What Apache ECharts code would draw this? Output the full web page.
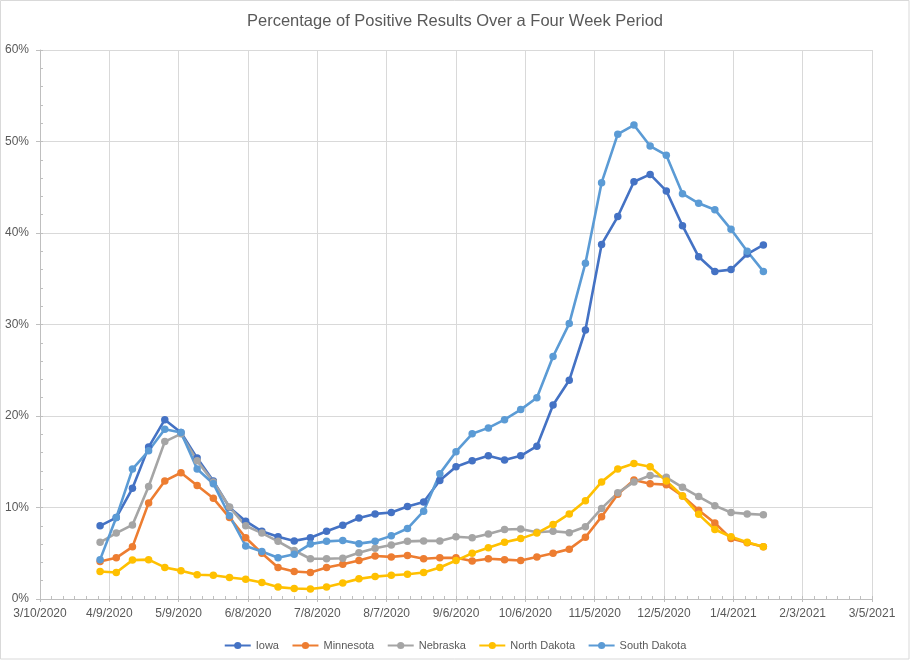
<!DOCTYPE html>
<html>
<head>
<meta charset="utf-8">
<script src="https://cdn.jsdelivr.net/npm/echarts@6/dist/echarts.min.js"></script>
<style>
html,body{margin:0;padding:0;background:#fff;}
#chart{width:910px;height:661px;}
</style>
</head>
<body>
<div id="chart"></div>
<script>
const chartTitle = 'Percentage of Positive Results Over a Four Week Period';
const axisStart = '2020-03-10';
const axisDays = 360;
const weeks = ['2020-04-05','2020-04-12','2020-04-19','2020-04-26','2020-05-03','2020-05-10','2020-05-17','2020-05-24','2020-05-31','2020-06-07','2020-06-14','2020-06-21','2020-06-28','2020-07-05','2020-07-12','2020-07-19','2020-07-26','2020-08-02','2020-08-09','2020-08-16','2020-08-23','2020-08-30','2020-09-06','2020-09-13','2020-09-20','2020-09-27','2020-10-04','2020-10-11','2020-10-18','2020-10-25','2020-11-01','2020-11-08','2020-11-15','2020-11-22','2020-11-29','2020-12-06','2020-12-13','2020-12-20','2020-12-27','2021-01-03','2021-01-10','2021-01-17'];
const iowa = [8.0,8.9,12.1,16.6,19.6,18.2,15.4,12.9,10.0,8.5,7.4,6.8,6.35,6.7,7.4,8.05,8.85,9.3,9.45,10.1,10.6,12.95,14.45,15.1,15.65,15.2,15.65,16.7,21.2,23.9,29.4,38.75,41.8,45.6,46.4,44.6,40.8,37.4,35.8,36.0,37.7,38.7];
const minnesota = [4.1,4.5,5.7,10.5,12.9,13.8,12.4,11.0,8.9,6.7,5.0,3.45,3.0,2.9,3.45,3.8,4.2,4.7,4.6,4.75,4.4,4.5,4.5,4.15,4.4,4.3,4.2,4.6,5.0,5.45,6.75,9.0,11.45,13.0,12.6,12.5,11.25,9.7,8.3,6.6,6.15,5.7];
const nebraska = [6.2,7.2,8.1,12.3,17.2,18.05,15.1,12.8,10.05,8.0,7.2,6.3,5.3,4.4,4.4,4.45,5.05,5.55,5.9,6.3,6.35,6.35,6.8,6.7,7.1,7.6,7.65,7.3,7.4,7.25,7.9,9.9,11.6,12.8,13.5,13.3,12.2,11.2,10.2,9.45,9.3,9.2];
const northDakota = [3.0,2.9,4.25,4.3,3.45,3.1,2.65,2.6,2.35,2.15,1.8,1.3,1.15,1.1,1.3,1.75,2.2,2.45,2.6,2.7,2.9,3.45,4.2,5.0,5.6,6.2,6.6,7.2,8.15,9.3,10.75,12.8,14.2,14.8,14.45,12.9,11.25,9.25,7.6,6.8,6.2,5.7];
const southDakota = [4.3,8.9,14.2,16.2,18.55,18.2,14.2,12.6,9.1,5.8,5.2,4.5,4.9,6.0,6.3,6.4,6.05,6.3,6.9,7.7,9.6,13.7,16.1,18.05,18.7,19.6,20.7,22.0,26.5,30.1,36.7,45.5,50.8,51.8,49.5,48.5,44.3,43.25,42.55,40.4,38.0,35.8];
const seriesNames = ['Iowa','Minnesota','Nebraska','North Dakota','South Dakota'];
const seriesValues = [iowa, minnesota, nebraska, northDakota, southDakota];
const seriesColors = ['#4472C4','#ED7D31','#A5A5A5','#FFC000','#5B9BD5'];

const DAY = 86400000;
const base = Date.parse(axisStart);
const dayOf = d => Math.round((Date.parse(d) - base) / DAY);
const fmtDate = v => {
  const d = new Date(base + v * DAY);
  return (d.getUTCMonth() + 1) + '/' + d.getUTCDate() + '/' + d.getUTCFullYear();
};

const textColor = '#595959';
const font = '"Liberation Sans", Arial, sans-serif';
const chart = echarts.init(document.getElementById('chart'), null, {renderer: 'canvas'});

const series = seriesNames.map((name, k) => ({
  name: name,
  type: 'line',
  xAxisIndex: 0,
  yAxisIndex: 0,
  data: weeks.map((w, i) => [dayOf(w), seriesValues[k][i]]),
  symbol: 'circle',
  symbolSize: 7.5,
  showAllSymbol: true,
  color: seriesColors[k],
  lineStyle: {width: 2.6, color: seriesColors[k]},
  itemStyle: {color: seriesColors[k]},
  emphasis: {disabled: true}
}));

chart.setOption({
  animation: false,
  backgroundColor: '#ffffff',
  textStyle: {fontFamily: font},
  graphic: [{
    type: 'rect',
    shape: {x: 0.5, y: 0.5, width: 908.5, height: 658.5},
    style: {fill: 'none', stroke: '#d9d9d9', lineWidth: 1},
    silent: true
  }],
  title: {
    text: chartTitle,
    left: 'center',
    top: 13,
    padding: 0,
    textStyle: {color: textColor, fontSize: 16.5, fontWeight: 'normal', fontFamily: font}
  },
  legend: {
    data: seriesNames,
    left: 'center',
    top: 635,
    itemWidth: 26,
    itemHeight: 9,
    itemGap: 12.5,
    textStyle: {color: textColor, fontSize: 11, fontFamily: font}
  },
  grid: {left: 40, right: 38, top: 50, bottom: 62, containLabel: false},
  xAxis: [{
    type: 'value',
    min: 0,
    max: axisDays,
    interval: 30,
    axisLine: {show: true, lineStyle: {color: '#bfbfbf', width: 1}},
    axisTick: {show: true, length: 3, inside: false, lineStyle: {color: '#bfbfbf'}},
    axisLabel: {color: textColor, fontSize: 12, margin: 9, formatter: fmtDate, fontFamily: font},
    splitLine: {show: true, lineStyle: {color: '#d9d9d9', width: 1}}
  }, {
    type: 'value',
    min: 0,
    max: axisDays,
    interval: 5,
    position: 'bottom',
    axisLine: {show: false},
    axisTick: {show: true, length: 3, inside: true, lineStyle: {color: '#bfbfbf'}},
    axisLabel: {show: false},
    splitLine: {show: false}
  }],
  yAxis: [{
    type: 'value',
    min: 0,
    max: 60,
    interval: 10,
    axisLine: {show: true, lineStyle: {color: '#bfbfbf', width: 1}},
    axisTick: {show: true, length: 4, inside: false, lineStyle: {color: '#bfbfbf'}},
    axisLabel: {color: textColor, fontSize: 12, margin: 11, formatter: '{value}%', fontFamily: font},
    splitLine: {show: true, lineStyle: {color: '#d9d9d9', width: 1}}
  }, {
    type: 'value',
    min: 0,
    max: 60,
    interval: 2,
    position: 'left',
    axisLine: {show: false},
    axisTick: {show: true, length: 3, inside: true, lineStyle: {color: '#bfbfbf'}},
    axisLabel: {show: false},
    splitLine: {show: false}
  }],
  series: series
});
</script>
</body>
</html>
